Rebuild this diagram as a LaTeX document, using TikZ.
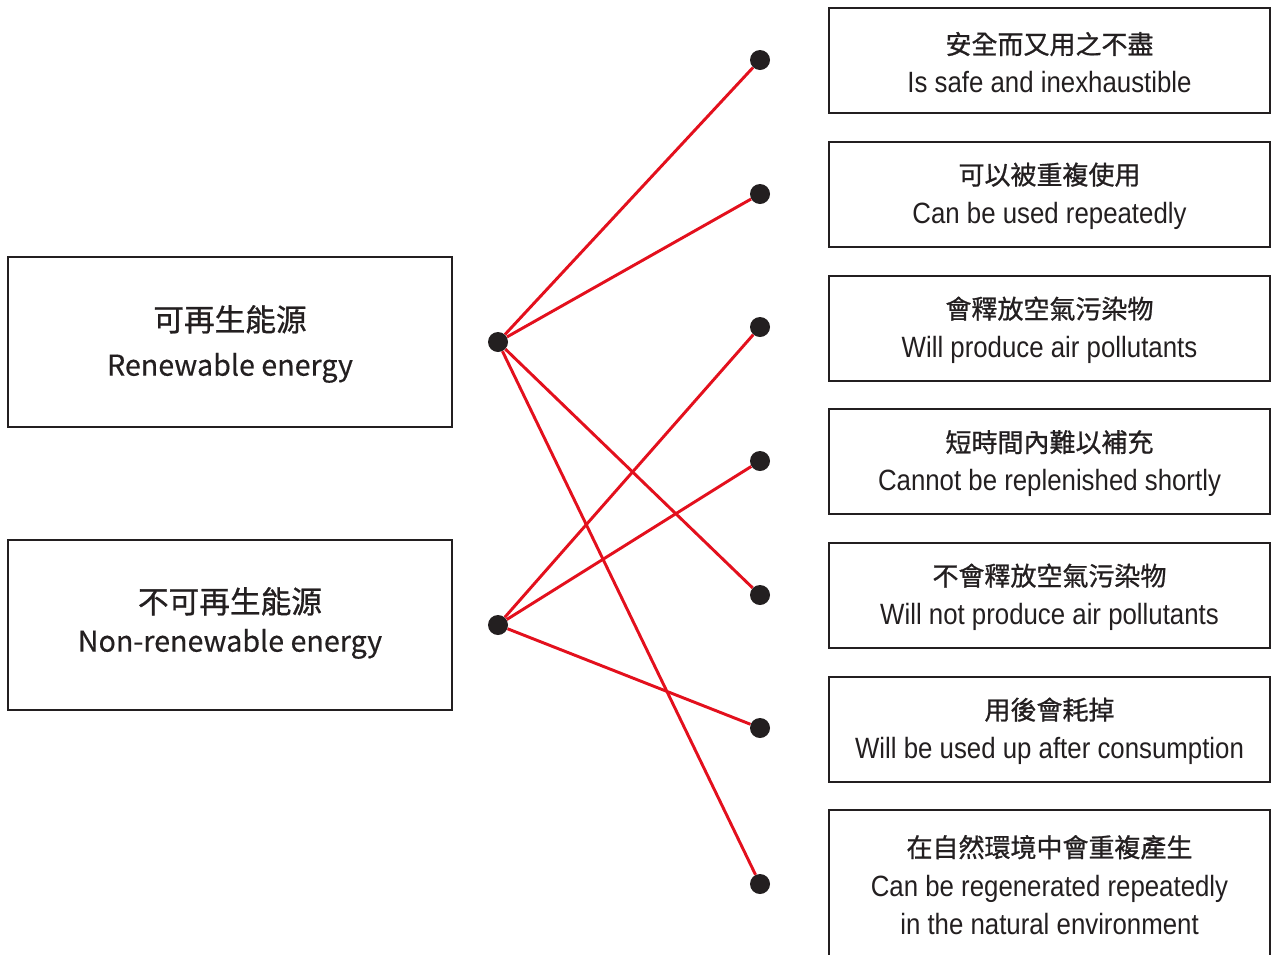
\documentclass[tikz,border=0pt]{standalone}
\usepackage{fontspec}
\newfontfamily\cjk[FakeBold=0.9]{Noto Sans CJK TC}
\newfontfamily\en[FakeStretch=0.88]{Liberation Sans}
\newfontfamily\enl[FakeBold=0.4]{Noto Sans CJK TC}
\newcommand\zhR{\cjk\fontsize{19.5}{24}\selectfont}
\newcommand\enR{\en\fontsize{22}{28.5}\selectfont}
\newcommand\zhL{\cjk\fontsize{23}{28}\selectfont}
\newcommand\enL{\enl\fontsize{21.5}{26}\selectfont}
\definecolor{ink}{HTML}{231F20}
\definecolor{linered}{HTML}{E3101D}
\tikzset{
  leftbox/.style={draw=ink, line width=1.5pt, minimum width=333pt, minimum height=127.5pt, inner sep=0pt},
  rightbox/.style={draw=ink, line width=1.5pt, minimum width=330.75pt, minimum height=78.75pt, inner sep=0pt},
  boxtext/.style={align=center, inner sep=0pt, text=ink},
  dot/.style={circle, fill=ink, minimum size=15pt, inner sep=0pt},
  link/.style={draw=linered, line width=2.2pt}
}
\begin{document}
\begin{tikzpicture}[x=0.75pt, y=-0.75pt]
\useasboundingbox (0,0) rectangle (1271,954);
\clip (0,0) rectangle (1271,954);
% left boxes
\node[leftbox] (B1) at (230,342) {};
\node[boxtext] (TB1) at (230,344) {\zhL 可再生能源\\[13.5pt]\enL Renewable energy};
\node[leftbox] (B2) at (230,625) {};
\node[boxtext] (TB2) at (230,623) {\zhL 不可再生能源\\[9pt]\enL Non-renewable energy};
% right boxes
\node[rightbox] (R1) at (1049.5,60.5) {};
\node[rightbox] (R2) at (1049.5,194) {};
\node[rightbox] (R3) at (1049.5,328) {};
\node[rightbox] (R4) at (1049.5,461.5) {};
\node[rightbox] (R5) at (1049.5,595) {};
\node[rightbox] (R6) at (1049.5,729) {};
\node[rightbox, minimum height=112.5pt] (R7) at (1049.5,885) {};
\node[boxtext] (T1) at (1049.5,62.5) {\zhR 安全而又用之不盡\\[10.5pt]\enR Is safe and inexhaustible};
\node[boxtext] (T2) at (1049.5,196) {\zhR 可以被重複使用\\[10.5pt]\enR Can be used repeatedly};
\node[boxtext] (T3) at (1049.5,330) {\zhR 會釋放空氣污染物\\[10.5pt]\enR Will produce air pollutants};
\node[boxtext] (T4) at (1049.5,463.5) {\zhR 短時間內難以補充\\[10.5pt]\enR Cannot be replenished shortly};
\node[boxtext] (T5) at (1049.5,597) {\zhR 不會釋放空氣污染物\\[10.5pt]\enR Will not produce air pollutants};
\node[boxtext] (T6) at (1049.5,731) {\zhR 用後會耗掉\\[10.5pt]\enR Will be used up after consumption};
\node[boxtext] (T7) at (1049.5,885) {\zhR 在自然環境中會重複產生\\[10.5pt]\enR Can be regenerated repeatedly\\[7.5pt]\enR in the natural environment};
% dots
\node[dot] (L1) at (498,342) {};
\node[dot] (L2) at (498,625) {};
\node[dot] (D1) at (760,60) {};
\node[dot] (D2) at (760,194) {};
\node[dot] (D3) at (760,327) {};
\node[dot] (D4) at (760,461) {};
\node[dot] (D5) at (760,595) {};
\node[dot] (D6) at (760,728) {};
\node[dot] (D7) at (760,884) {};
% links
\draw[link] (L1) -- (D1);
\draw[link] (L1) -- (D2);
\draw[link] (L1) -- (D5);
\draw[link] (L1) -- (D7);
\draw[link] (L2) -- (D3);
\draw[link] (L2) -- (D4);
\draw[link] (L2) -- (D6);
\end{tikzpicture}
\end{document}
